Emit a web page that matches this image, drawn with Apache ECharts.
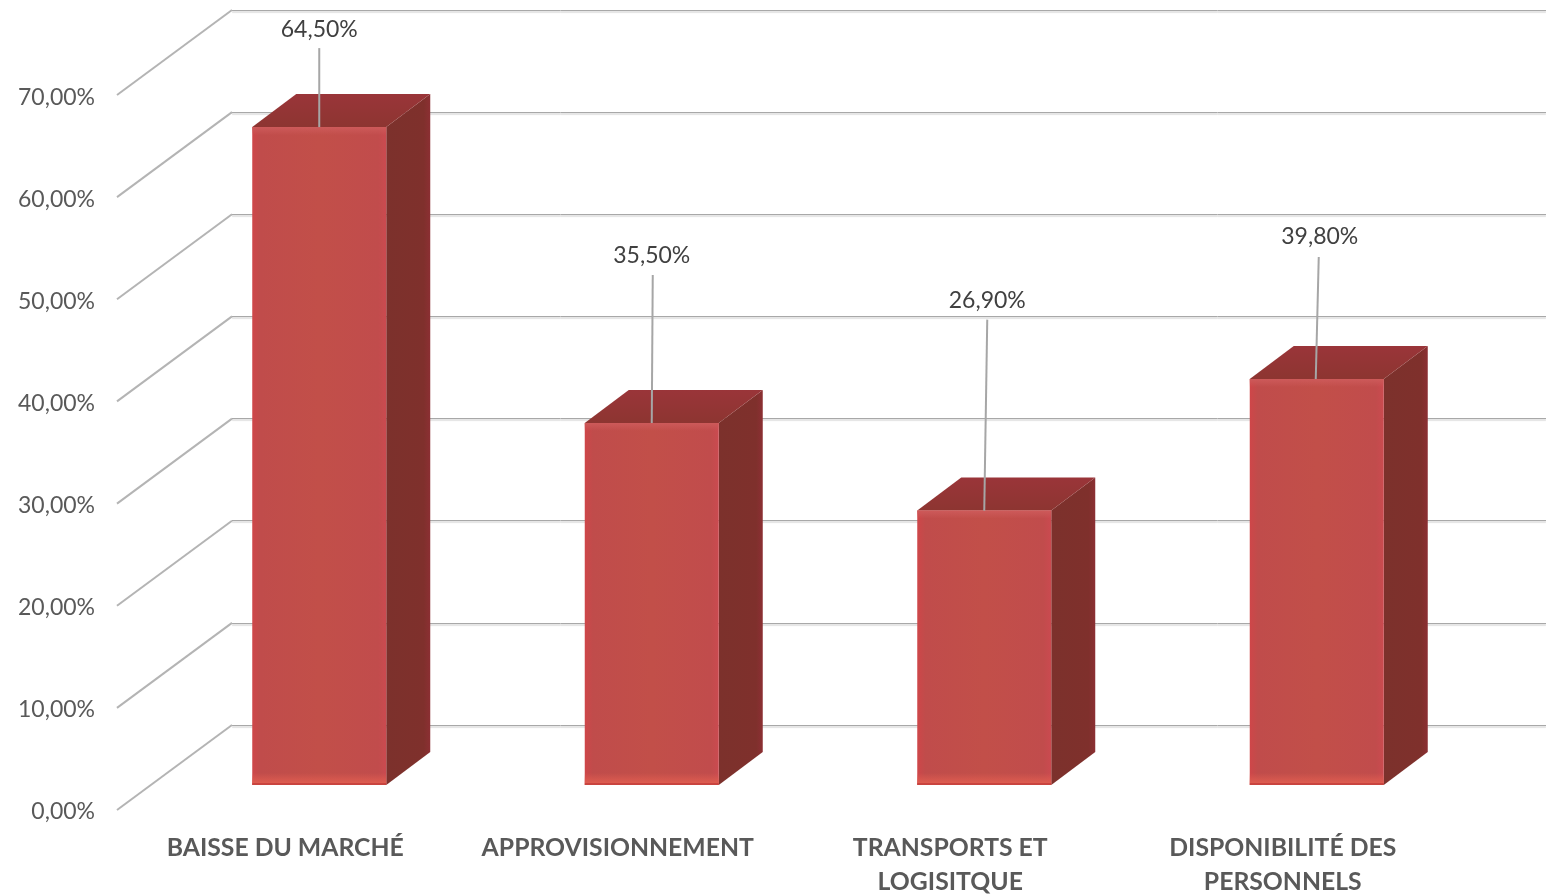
<!DOCTYPE html>
<html>
<head>
<meta charset="utf-8">
<title>Graphique</title>
<script src="https://cdn.jsdelivr.net/npm/echarts@6/dist/echarts.min.js"></script>
<style>
html, body { margin: 0; padding: 0; background: #fff; overflow: hidden; }
#main { width: 1546px; height: 894px; }
</style>
</head>
<body>
<div id="main"></div>
<script>
var categories = ['BAISSE DU MARCHÉ', 'APPROVISIONNEMENT', 'TRANSPORTS ET\nLOGISITQUE', 'DISPONIBILITÉ DES\nPERSONNELS'];
var values = [64.5, 35.5, 26.9, 39.8];
var ticks = [0, 10, 20, 30, 40, 50, 60, 70];

// leader line + label placement, relative to the top of each bar
var leaderTop = [[0, -79], [1, -148], [3, -191], [2, -122]];
var leaderFoot = [0, 0, 0, -1];
var labelShift = [[0, -98], [0, -167], [3, -210], [3, -142]];

var FONT = 'Lato, sans-serif';
var myChart = echarts.init(document.getElementById('main'));

function fmt(v) {
    return v.toFixed(2).replace('.', ',') + '%';
}

function renderBar(params, api) {
    var i = api.value(0);
    var v = api.value(1);
    // bar stands a bit behind the front edge of the floor
    var top = api.coord([i, v]);
    var base = api.coord([i, 0]);
    var cx = top[0] + 34, yt = top[1] - 25, yb = base[1] - 25;
    var l = cx - 67, r = cx + 67;
    var dx = 44, dy = -33;
    var kids = [
        { type: 'polygon', shape: { points: [[r, yt], [r + dx, yt + dy], [r + dx, yb + dy], [r, yb]] },
          style: { fill: new echarts.graphic.LinearGradient(0, 0, 1, 0, [
              { offset: 0, color: '#7c312c' }, { offset: 0.85, color: '#7f302c' }, { offset: 1, color: '#8c2f33' }
          ]) } },
        { type: 'polygon', shape: { points: [[l, yt], [l + dx, yt + dy], [r + dx, yt + dy], [r, yt]] },
          style: { fill: new echarts.graphic.LinearGradient(0, 0, 0, 1, [
              { offset: 0, color: '#9a3539' }, { offset: 1, color: '#8d3531' }
          ]) } },
        { type: 'rect', shape: { x: l, y: yt, width: r - l, height: yb - yt },
          style: { fill: new echarts.graphic.LinearGradient(0, 0, 1, 0, [
              { offset: 0, color: '#cf4649' }, { offset: 0.06, color: '#c04c4b' }, { offset: 0.5, color: '#c24f49' },
              { offset: 0.94, color: '#c14c4c' }, { offset: 1, color: '#cb4a50' }
          ]) } },
        { type: 'rect', shape: { x: l, y: yb - 12, width: r - l, height: 10 },
          style: { fill: new echarts.graphic.LinearGradient(0, 0, 0, 1, [
              { offset: 0, color: 'rgba(222,92,80,0)' }, { offset: 1, color: 'rgba(222,92,80,1)' }
          ]) } },
        { type: 'rect', shape: { x: l, y: yb - 2, width: r - l, height: 2 },
          style: { fill: '#c9443f' } },
        { type: 'rect', shape: { x: l, y: yt, width: r - l, height: 8 },
          style: { fill: new echarts.graphic.LinearGradient(0, 0, 0, 1, [
              { offset: 0, color: 'rgba(205,90,90,1)' }, { offset: 1, color: 'rgba(205,90,90,0)' }
          ]) } },
        { type: 'line', shape: { x1: cx + leaderFoot[i], y1: yt, x2: cx + leaderTop[i][0], y2: yt + leaderTop[i][1] },
          style: { stroke: '#a6a6a6', lineWidth: 2 } },
        { type: 'text', x: cx + labelShift[i][0], y: yt + labelShift[i][1],
          style: { text: fmt(v), font: '23px ' + FONT, fill: '#404040', align: 'center', verticalAlign: 'middle' } }
    ];
    return { type: 'group', children: kids };
}

// diagonal wall lines going from the back wall to the front edge
function renderWall(params, api) {
    var p = api.coord([0, api.value(0)]);
    return {
        type: 'line',
        shape: { x1: p[0], y1: p[1], x2: p[0] - 115, y2: p[1] + 85 },
        style: { stroke: '#b4b4b4', lineWidth: 2 }
    };
}

myChart.setOption({
    animation: false,
    backgroundColor: '#fff',
    grid: [
        { left: 119, top: 96, width: 1330, height: 714, outerBoundsMode: 'none' },
        { left: 232, top: 10, right: 0, height: 715, outerBoundsMode: 'none' }
    ],
    xAxis: [
        { type: 'category', gridIndex: 0, data: categories,
          axisLine: { show: false }, axisTick: { show: false },
          axisLabel: { interval: 0, margin: 21, color: '#595959', fontFamily: FONT, fontWeight: 'bold', fontSize: 24.75, lineHeight: 34, verticalAlign: 'top' } },
        { type: 'value', gridIndex: 1, min: 0, max: 1, show: false }
    ],
    yAxis: [
        { type: 'value', gridIndex: 0, min: 0, max: 70, interval: 10,
          axisLine: { show: false }, axisTick: { show: false }, splitLine: { show: false },
          axisLabel: { margin: 24, color: '#595959', fontFamily: FONT, fontSize: 23, verticalAlign: 'top', lineHeight: 4, formatter: fmt } },
        { type: 'value', gridIndex: 1, min: 0, max: 70, interval: 10,
          axisLine: { show: false }, axisTick: { show: false }, axisLabel: { show: false },
          splitLine: { show: true, lineStyle: { color: '#a8a8a8', width: 1, shadowColor: '#c8c8c8', shadowOffsetY: 1.5, shadowBlur: 1 } } }
    ],
    series: [
        { type: 'custom', xAxisIndex: 1, yAxisIndex: 1, z: 1, silent: true, clip: false,
          data: ticks.map(function (t) { return [t]; }),
          encode: { y: 0 }, renderItem: renderWall },
        { type: 'custom', xAxisIndex: 0, yAxisIndex: 0, z: 5, silent: true, clip: false,
          data: values.map(function (v, i) { return [i, v]; }),
          encode: { x: 0, y: 1 }, renderItem: renderBar }
    ]
});
</script>
</body>
</html>
